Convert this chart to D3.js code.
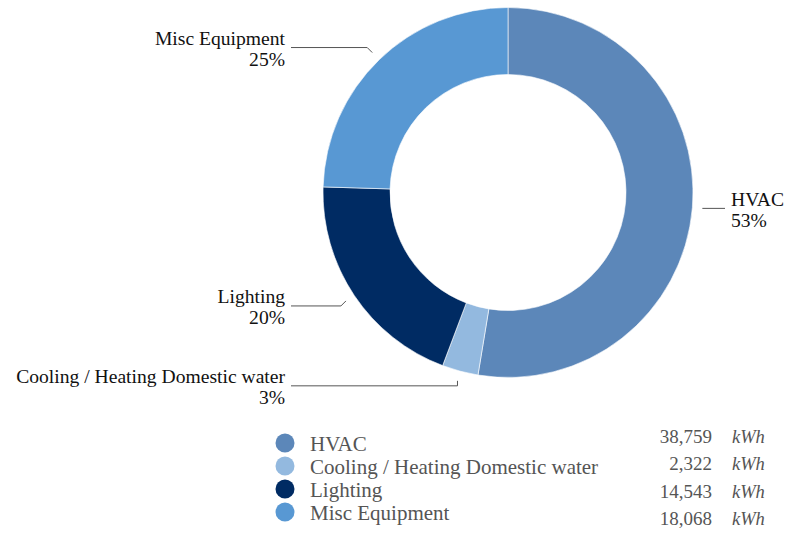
<!DOCTYPE html>
<html><head><meta charset="utf-8">
<script src="https://cdn.jsdelivr.net/npm/d3@7"></script>
<style>
html,body{margin:0;padding:0;background:#fff;}
</style></head>
<body>
<svg id="chart" width="787" height="533" font-family="Liberation Serif, serif" style="font-family:'Liberation Serif',serif"></svg>
<script>
const categories = ["HVAC", "Cooling / Heating Domestic water", "Lighting", "Misc Equipment"];
const values = [38759, 2322, 14543, 18068];
const unitLabel = "kWh";
const colors = ["#5c87b9", "#93b9df", "#002b63", "#5898d3"];

const FONT = "Liberation Serif, serif";
const svg = d3.select("#chart");
const cx = 508, cy = 192.5, rOuter = 185, rInner = 118, rLead = 195;
const total = d3.sum(values);
const data = categories.map((c, i) => ({ name: c, value: values[i], color: colors[i] }));

const pie = d3.pie().value(d => d.value).sort(null);
const arcs = pie(data);
const arc = d3.arc().innerRadius(rInner).outerRadius(rOuter);
const leadArc = d3.arc().innerRadius(rLead).outerRadius(rLead);

const g = svg.append("g").attr("transform", `translate(${cx},${cy})`);
g.selectAll("path.slice").data(arcs).join("path")
  .attr("class", "slice")
  .attr("d", arc)
  .attr("fill", d => d.data.color)
  .attr("stroke", "#fff")
  .attr("stroke-width", 0.6);

const labelDy = [0, 5, 5, -5];
const leftTextX = 285, rightTextX = 731, lineGap = 6, lineHeight = 21;

arcs.forEach((a, i) => {
  const [px, py] = leadArc.centroid(a);
  const ax = cx + px, ay = cy + py;
  const mid = (a.startAngle + a.endAngle) / 2;
  const right = mid < Math.PI;
  const ly = ay + labelDy[i];
  let pts;
  if (right) {
    pts = [[ax, ly], [rightTextX - lineGap, ly]];
  } else {
    const ex = Math.abs(Math.sin(mid)) < 0.5 ? ax : ax - Math.abs(labelDy[i]);
    pts = [[ax, ay], [ex, ly], [leftTextX + lineGap, ly]];
  }
  svg.append("path")
    .attr("d", d3.line()(pts))
    .attr("fill", "none")
    .attr("stroke", "#555")
    .attr("stroke-width", 1);
  const tx = right ? rightTextX : leftTextX;
  const t = svg.append("text")
    .attr("x", tx).attr("y", ly - 2.5)
    .attr("text-anchor", right ? "start" : "end")
    .attr("font-family", FONT)
    .style("font-family", FONT)
    .attr("font-size", 19.6)
    .attr("fill", "#111");
  t.append("tspan").attr("x", tx).text(a.data.name);
  t.append("tspan").attr("x", tx).attr("dy", lineHeight)
    .text(Math.round(a.data.value / total * 100) + "%");
});

const legY = d3.scaleLinear().domain([0, 3]).range([451, 520]);
const valY = d3.scaleLinear().domain([0, 3]).range([443, 525]);
const fmt = d3.format(",");
const leg = svg.append("g");
data.forEach((d, i) => {
  leg.append("circle").attr("cx", 285).attr("cy", legY(i) - 8).attr("r", 9.5).attr("fill", d.color);
  leg.append("text").attr("x", 310).attr("y", legY(i))
    .attr("font-family", FONT).style("font-family", FONT)
    .attr("font-size", 21).attr("fill", "#555").text(d.name);
  leg.append("text").attr("x", 712).attr("y", valY(i))
    .attr("text-anchor", "end").attr("font-family", FONT).style("font-family", FONT)
    .attr("font-size", 19).attr("fill", "#555").text(fmt(d.value));
  leg.append("text").attr("x", 732).attr("y", valY(i))
    .attr("font-family", FONT).style("font-family", FONT)
    .attr("font-size", 18.5).attr("font-style", "italic").attr("fill", "#555").text(unitLabel);
});
</script>
</body></html>
